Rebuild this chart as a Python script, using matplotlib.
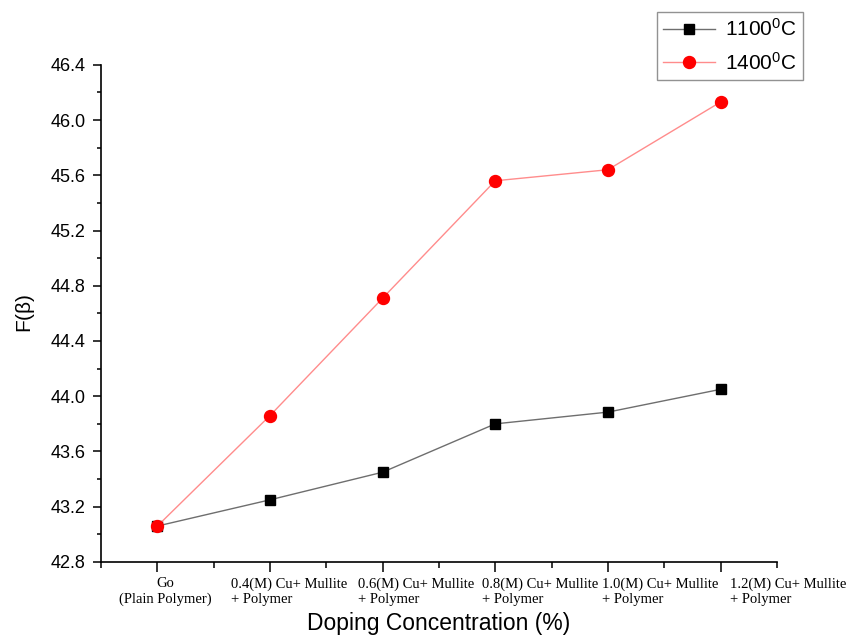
import matplotlib
matplotlib.use("Agg")
import matplotlib.pyplot as plt
import matplotlib.transforms as mtransforms
from matplotlib.ticker import MultipleLocator, FixedLocator

plt.rcParams['font.family'] = ['Liberation Sans', 'DejaVu Sans']
plt.rcParams['mathtext.fontset'] = 'custom'
plt.rcParams['mathtext.rm'] = 'Liberation Sans'
plt.rcParams['mathtext.it'] = 'Liberation Sans'

categories = [
    "Go\n(Plain Polymer)",
    "0.4(M) Cu+ Mullite\n+ Polymer",
    "0.6(M) Cu+ Mullite\n+ Polymer",
    "0.8(M) Cu+ Mullite\n+ Polymer",
    "1.0(M) Cu+ Mullite\n+ Polymer",
    "1.2(M) Cu+ Mullite\n+ Polymer",
]
f_1100 = [43.06, 43.25, 43.45, 43.80, 43.885, 44.05]
f_1400 = [43.06, 43.86, 44.71, 45.56, 45.64, 46.13]
yticks = [42.8, 43.2, 43.6, 44.0, 44.4, 44.8, 45.2, 45.6, 46.0, 46.4]

# horizontal nudges (points) of the category captions relative to their ticks
label_dx = [6, -28, -17.5, -9.5, -4.5, 7]

fig = plt.figure(figsize=(8.49, 6.35), dpi=100)
ax = fig.add_axes([0.119, 0.115, 0.796, 0.783])

x = list(range(len(categories)))
ax.plot(x, f_1100, color='#6e6e6e', lw=1.0, marker='s', ms=7.2,
        mfc='black', mec='black', label='1100$^0$C', zorder=3)
ax.plot(x, f_1400, color='#ff8c8c', lw=1.0, marker='o', ms=8.6,
        mfc='red', mec='red', label='1400$^0$C', zorder=4)

ax.set_xlim(-0.5, 5.5)
ax.set_ylim(42.8, 46.4)
ax.set_yticks(yticks)
ax.set_yticklabels([f"{v:.1f}" for v in yticks])
ax.yaxis.set_minor_locator(MultipleLocator(0.2))
ax.set_xticks(x)
ax.set_xticklabels([])
ax.xaxis.set_minor_locator(FixedLocator([i + 0.5 for i in range(-1, 6)]))

# category captions under the x axis
base = ax.get_xaxis_transform()
for i, (lab, dx) in enumerate(zip(categories, label_dx)):
    tr = base + mtransforms.ScaledTranslation(dx / 72, 0, fig.dpi_scale_trans)
    ha = 'center' if i == 0 else 'left'
    ax.text(i, -0.031, lab, transform=tr, ha=ha, va='top',
            multialignment=ha, fontsize=10.5, linespacing=1.22,
            family=['Liberation Serif', 'DejaVu Serif'])

for s in ('top', 'right'):
    ax.spines[s].set_visible(False)
for s in ('left', 'bottom'):
    ax.spines[s].set_linewidth(1.2)

ax.tick_params(axis='y', which='major', direction='out', length=6, width=1.1,
               labelsize=13, pad=5)
ax.tick_params(axis='y', which='minor', direction='out', length=3, width=1.1)
ax.tick_params(axis='x', which='major', direction='out', length=7, width=1.1)
ax.tick_params(axis='x', which='minor', direction='out', length=4, width=1.1)

ax.set_xlabel('Doping Concentration (%)', fontsize=16.5)
ax.xaxis.set_label_coords(0.5, -0.1)
ax.set_ylabel(r'F($\beta$)', fontsize=15, labelpad=10)

leg = fig.legend(loc='upper left', bbox_to_anchor=(0.774, 0.981), fontsize=15,
                 frameon=True, fancybox=False, edgecolor='#777777',
                 borderaxespad=0, handlelength=2.5, borderpad=0.3,
                 labelspacing=0.55, handletextpad=0.45)
leg.get_frame().set_linewidth(1.0)

fig.savefig('out.png', dpi=100)
